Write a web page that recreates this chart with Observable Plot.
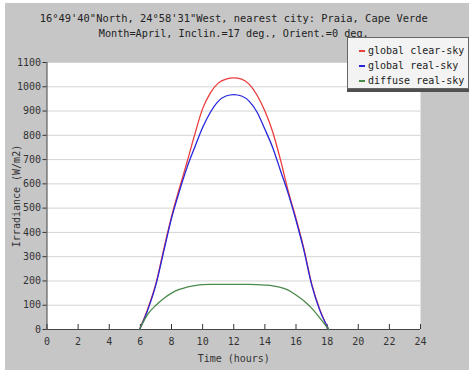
<!DOCTYPE html>
<html>
<head>
<meta charset="utf-8">
<script src="https://cdn.jsdelivr.net/npm/d3@7"></script>
<script src="https://cdn.jsdelivr.net/npm/@observablehq/plot@0.6"></script>
<style>
  body { margin: 0; background: #fff; }
  #wrap { position: relative; width: 469px; height: 371px; overflow: hidden; font-family: "DejaVu Sans Mono", monospace; }
  #panel { position: absolute; left: 5px; top: 3px; width: 464px; height: 367px; background: #c6c6c6; }
  #chart { position: absolute; left: 0; top: 0; }
  #legend { position: absolute; left: 347px; top: 37px; width: 120px; height: 50px; background: #f3f3f3;
            border: 1px solid #666; box-shadow: 0 3px 0 #505050; font-size: 10px; color: #222; }
  .item { position: absolute; left: 20px; height: 12px; line-height: 12px; white-space: nowrap; }
  .sw { position: absolute; left: -9px; top: 5px; width: 6px; height: 2px; }
</style>
</head>
<body>
<div id="wrap">
  <div id="panel"></div>
  <div id="chart"></div>
  <div id="legend"></div>
</div>
<script>
const hours = [5.95, 6.5, 7, 7.5, 8, 8.5, 9, 9.5, 10, 10.5, 11, 11.5, 12, 12.5, 13, 13.5, 14, 14.5, 15, 15.5, 16, 16.5, 17, 17.5, 18.1];
const globalClear = [0, 90, 190, 330, 465, 580, 690, 805, 910, 975, 1015, 1032, 1037, 1032, 1010, 965, 900, 815, 700, 570, 458, 335, 190, 88, 0];
const globalReal  = [0, 85, 185, 322, 458, 568, 668, 752, 832, 895, 940, 962, 968, 962, 940, 895, 825, 750, 655, 560, 450, 328, 186, 84, 0];
const diffuseReal = [0, 65, 100, 128, 150, 165, 175, 181, 185, 186, 186, 186, 186, 186, 186, 185, 183, 180, 174, 162, 142, 118, 88, 50, 0];
const seriesNames = ["global clear-sky", "global real-sky", "diffuse real-sky"];
const seriesColors = ["#ec3c3c", "#2626dc", "#4a8a4a"];
const xTicks = [0, 2, 4, 6, 8, 10, 12, 14, 16, 18, 20, 22, 24];
const yTicks = [0, 100, 200, 300, 400, 500, 600, 700, 800, 900, 1000, 1100];
const titleLines = ["16°49'40\"North, 24°58'31\"West, nearest city: Praia, Cape Verde",
                    "Month=April, Inclin.=17 deg., Orient.=0 deg."];

const allSeries = [globalClear, globalReal, diffuseReal];
const rows = [];
allSeries.forEach((vals, s) => vals.forEach((v, i) => rows.push({h: hours[i], v, s: seriesNames[s]})));

const chart = Plot.plot({
  width: 469,
  height: 371,
  marginLeft: 46.5,
  marginRight: 49,
  marginTop: 62,
  marginBottom: 42,
  style: {background: "transparent", fontFamily: "DejaVu Sans Mono, monospace", fontSize: "10px", color: "#333"},
  x: {domain: [0, 24]},
  y: {domain: [0, 1100]},
  color: {domain: seriesNames, range: seriesColors},
  marks: [
    Plot.frame({fill: "white", stroke: null}),
    Plot.gridY(yTicks, {stroke: "#d4d4d4", strokeOpacity: 1}),
    Plot.axisY({ticks: yTicks, tickFormat: d3.format("d"), tickSize: 4, tickPadding: 2, label: "Irradiance (W/m2)", labelAnchor: "center", labelArrow: "none", labelOffset: 34, fill: "#333", fontSize: 10}),
    Plot.axisX({ticks: xTicks, tickFormat: d3.format("d"), tickSize: -5, tickPadding: 13, label: "Time (hours)", labelAnchor: "center", labelArrow: "none", labelOffset: 32, fill: "#333", fontSize: 10}),
    Plot.ruleY([0], {stroke: "#444"}),
    Plot.ruleX([0], {stroke: "#444"}),
    Plot.line(rows, {x: "h", y: "v", z: "s", stroke: "s", strokeWidth: 1.3, curve: "monotone-x"}),
    Plot.text([titleLines[0]], {frameAnchor: "top", dy: -47.5, fontSize: 10.4, fill: "#222"}),
    Plot.text([titleLines[1]], {frameAnchor: "top", dy: -33, fontSize: 10.2, fill: "#222"})
  ]
});
document.getElementById("chart").appendChild(chart);

const legend = document.getElementById("legend");
seriesNames.forEach((name, i) => {
  const it = document.createElement("div");
  it.className = "item";
  it.style.top = (7 + i * 15) + "px";
  it.textContent = name;
  const sw = document.createElement("span");
  sw.className = "sw";
  sw.style.background = seriesColors[i];
  it.appendChild(sw);
  legend.appendChild(it);
});
</script>
</body>
</html>
